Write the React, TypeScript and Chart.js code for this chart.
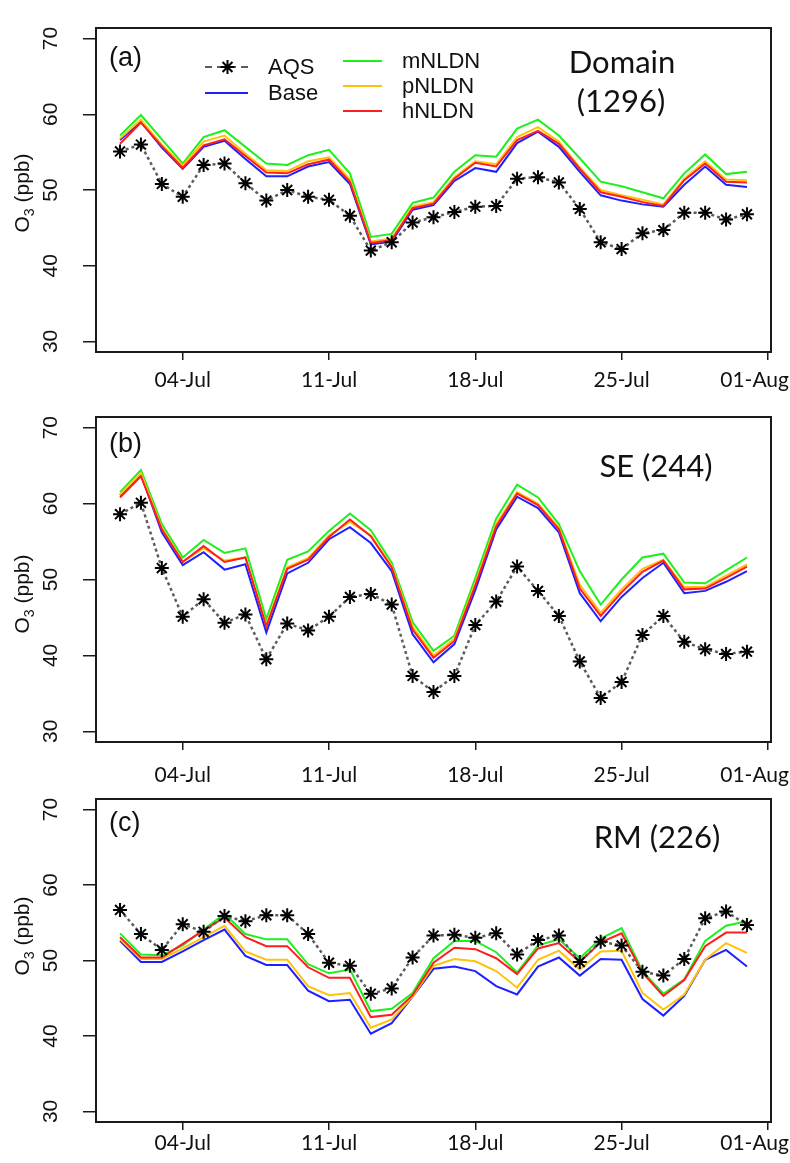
import React, { useEffect, useRef } from "react";
import { Chart, registerables } from "chart.js";

Chart.register(...registerables);

// ---------- data ----------
const days = [1, 2, 3, 4, 5, 6, 7, 8, 9, 10, 11, 12, 13, 14, 15, 16, 17, 18, 19, 20, 21, 22, 23, 24, 25, 26, 27, 28, 29, 30, 31];
const xTickValues = [4, 11, 18, 25, 32];
const xTickLabels = ["04-Jul", "11-Jul", "18-Jul", "25-Jul", "01-Aug"];
const yTickValues = [30, 40, 50, 60, 70];
const seriesNames = ["AQS", "Base", "mNLDN", "pNLDN", "hNLDN"];

// (a) Domain
const aqsA = [55.1, 56.0, 50.8, 49.1, 53.3, 53.5, 50.9, 48.6, 50.0, 49.1, 48.7, 46.6, 42.0, 43.1, 45.7, 46.4, 47.1, 47.8, 47.9, 51.5, 51.7, 51.0, 47.5, 43.1, 42.2, 44.3, 44.7, 47.0, 47.0, 46.1, 46.8];
const baseA = [56.6, 59.0, 55.6, 52.8, 55.7, 56.5, 54.1, 51.8, 51.8, 53.1, 53.7, 50.8, 42.8, 43.2, 47.4, 48.0, 51.2, 52.9, 52.4, 56.2, 57.7, 55.7, 52.4, 49.3, 48.6, 48.1, 47.8, 50.7, 53.1, 50.7, 50.4];
const mA = [57.2, 59.9, 56.7, 53.5, 57.0, 57.9, 55.7, 53.5, 53.3, 54.6, 55.3, 52.2, 43.8, 44.2, 48.3, 49.0, 52.4, 54.6, 54.4, 58.1, 59.3, 57.2, 54.2, 51.1, 50.5, 49.7, 48.9, 52.2, 54.7, 52.1, 52.4];
const pA = [56.8, 59.3, 56.0, 53.2, 56.4, 57.2, 54.8, 52.6, 52.5, 53.8, 54.3, 51.4, 43.2, 43.6, 47.8, 48.4, 51.7, 53.8, 53.4, 57.0, 58.3, 56.4, 53.0, 50.0, 49.3, 48.7, 48.1, 51.5, 53.8, 51.4, 51.3];
const hA = [56.1, 58.9, 55.8, 52.9, 55.9, 56.7, 54.5, 52.3, 52.2, 53.4, 54.0, 51.1, 43.0, 43.4, 47.6, 48.2, 51.5, 53.6, 53.1, 56.6, 57.8, 56.1, 52.8, 49.7, 49.1, 48.4, 47.9, 51.3, 53.5, 51.1, 51.0];

// (b) SE
const aqsB = [58.6, 60.1, 51.5, 45.1, 47.4, 44.3, 45.4, 39.5, 44.2, 43.3, 45.1, 47.7, 48.1, 46.7, 37.3, 35.2, 37.3, 44.0, 47.1, 51.7, 48.5, 45.2, 39.2, 34.4, 36.5, 42.7, 45.2, 41.8, 40.8, 40.2, 40.5];
const baseB = [61.1, 63.8, 56.2, 51.9, 53.6, 51.3, 52.0, 43.0, 50.8, 52.2, 55.3, 56.9, 54.8, 51.1, 42.8, 39.1, 41.5, 48.6, 56.6, 60.9, 59.4, 56.2, 48.2, 44.5, 47.7, 50.2, 52.2, 48.2, 48.5, 49.7, 51.1];
const mB = [61.5, 64.4, 57.3, 52.9, 55.2, 53.5, 54.1, 44.8, 52.6, 53.7, 56.4, 58.7, 56.5, 52.2, 44.4, 40.6, 42.6, 50.2, 58.0, 62.5, 60.8, 57.3, 51.1, 46.7, 50.0, 52.9, 53.4, 49.6, 49.5, 51.2, 52.9];
const pB = [61.2, 64.0, 56.8, 52.4, 54.1, 52.5, 52.9, 44.0, 51.6, 52.8, 55.8, 57.6, 55.8, 51.8, 43.8, 40.0, 42.2, 49.5, 57.3, 61.5, 60.0, 56.8, 49.3, 45.6, 48.7, 51.4, 52.6, 49.0, 49.0, 50.5, 52.0];
const hB = [60.8, 63.6, 56.6, 52.3, 54.4, 52.3, 52.9, 43.8, 51.4, 52.6, 55.6, 57.9, 55.7, 51.6, 43.4, 39.7, 41.9, 49.2, 57.0, 61.3, 59.8, 56.6, 48.8, 45.2, 48.3, 51.0, 52.5, 48.7, 48.8, 50.2, 51.7];

// (c) RM
const aqsC = [56.7, 53.5, 51.4, 54.8, 53.8, 55.9, 55.2, 56.0, 56.0, 53.5, 49.7, 49.3, 45.6, 46.3, 50.4, 53.3, 53.4, 53.0, 53.6, 50.8, 52.7, 53.3, 49.8, 52.5, 52.0, 48.5, 48.0, 50.2, 55.6, 56.5, 54.7];
const baseC = [52.6, 49.8, 49.8, 51.2, 52.7, 54.1, 50.6, 49.4, 49.4, 46.0, 44.6, 44.8, 40.3, 41.7, 45.2, 48.9, 49.2, 48.6, 46.6, 45.5, 49.2, 50.4, 48.0, 50.2, 50.1, 44.9, 42.7, 45.3, 50.1, 51.4, 49.2];
const mC = [53.6, 50.8, 50.7, 52.0, 54.1, 56.2, 53.5, 52.8, 52.8, 49.5, 48.3, 48.8, 43.3, 43.6, 45.7, 50.3, 52.6, 52.6, 51.1, 48.4, 52.0, 52.8, 50.3, 52.9, 54.3, 48.6, 45.6, 47.5, 52.6, 54.6, 55.2];
const pC = [52.8, 50.2, 50.2, 51.6, 53.1, 54.6, 51.2, 50.1, 50.1, 46.6, 45.4, 45.7, 41.1, 42.2, 45.2, 49.3, 50.2, 49.9, 48.6, 46.4, 50.1, 51.3, 48.8, 51.2, 51.3, 45.7, 43.5, 45.5, 50.1, 52.3, 51.0];
const hC = [53.1, 50.4, 50.4, 52.2, 54.0, 55.7, 53.1, 51.9, 51.9, 49.1, 47.7, 47.7, 42.5, 42.8, 45.4, 49.7, 51.7, 51.5, 50.3, 48.2, 51.6, 52.3, 49.8, 52.4, 53.6, 48.4, 45.3, 47.4, 51.9, 53.7, 53.7];

// ---------- styles / layout ----------
const Y_MIN = 28.6;
const Y_MAX = 71.4;
const X_MIN = -0.15;
const X_MAX = 32.15;
const AREA_LEFT = 96;
const AREA_RIGHT = 771;
const X_SCALE_H = 10;

const COLORS = {
  aqsLine: "#5c5c5c",
  aqsPoint: "#000000",
  base: "#1f1fff",
  m: "#1ef01e",
  p: "#ffc20a",
  h: "#ff1e1e",
};

const PANELS = [
  {
    key: "a", top: 0, height: 395, areaTop: 28, areaBottom: 352, labelY: 380, titleY: 193,
    tag: "(a)", tagBase: 66, region: [["Domain", 622, 73], ["(1296)", 621, 112]],
    aqs: aqsA, base: baseA, m: mA, p: pA, h: hA, legend: true,
  },
  {
    key: "b", top: 395, height: 395, areaTop: 417, areaBottom: 742, labelY: 775, titleY: 594,
    tag: "(b)", tagBase: 452, region: [["SE (244)", 656, 477]],
    aqs: aqsB, base: baseB, m: mB, p: pB, h: hB, legend: false,
  },
  {
    key: "c", top: 790, height: 373, areaTop: 797, areaBottom: 1122, labelY: 1143, titleY: 936,
    tag: "(c)", tagBase: 831, region: [["RM (226)", 657, 848]],
    aqs: aqsC, base: baseC, m: mC, p: pC, h: hC, legend: false,
  },
];

const ARIAL = '"Liberation Sans", Arial, sans-serif';
const CALIBRI = 'Lato, "Open Sans", sans-serif';

function toXY(vals: number[]) {
  return days.map((d, i) => ({ x: d, y: vals[i] }));
}

function drawStar(ctx: CanvasRenderingContext2D, x: number, y: number, r: number) {
  ctx.beginPath();
  for (let k = 0; k < 4; k++) {
    const a = (k * Math.PI) / 4;
    ctx.moveTo(x - r * Math.cos(a), y - r * Math.sin(a));
    ctx.lineTo(x + r * Math.cos(a), y + r * Math.sin(a));
  }
  ctx.stroke();
}

function decoPlugin(p: any) {
  return {
    id: "deco_" + p.key,
    beforeDatasetsDraw(chart: any) {
      const { ctx, chartArea: a } = chart;
      ctx.save();
      ctx.strokeStyle = "#1a1a1a";
      ctx.lineWidth = 2;
      ctx.strokeRect(a.left, a.top, a.right - a.left, a.bottom - a.top);
      ctx.restore();
    },
    afterDraw(chart: any) {
      const ctx: CanvasRenderingContext2D = chart.ctx;
      const off = p.top;
      const xs = chart.scales.x;
      const ys = chart.scales.y;
      ctx.save();
      ctx.fillStyle = "#111";

      // y tick labels (rotated)
      ctx.font = "21px " + ARIAL;
      ctx.textAlign = "center";
      ctx.textBaseline = "alphabetic";
      ys.ticks.forEach((t: any) => {
        const y = ys.getPixelForValue(t.value);
        ctx.save();
        ctx.translate(57, y);
        ctx.rotate(-Math.PI / 2);
        ctx.fillText(String(t.value), 0, 0);
        ctx.restore();
      });

      // x tick labels
      ctx.font = "21px " + CALIBRI;
      ctx.textAlign = "center";
      xs.ticks.forEach((t: any) => {
        const idx = xTickValues.indexOf(t.value);
        const label = xTickLabels[idx];
        const w = ctx.measureText(label).width;
        let x = xs.getPixelForValue(t.value);
        if (x + w / 2 > 789) x = 789 - w / 2;
        ctx.fillText(label, x, p.labelY - off + 7);
      });

      // y axis title: O3 (ppb)
      ctx.save();
      ctx.translate(29, p.titleY - off);
      ctx.rotate(-Math.PI / 2);
      ctx.textAlign = "left";
      const big = "21px " + ARIAL;
      const small = "14px " + ARIAL;
      ctx.font = big;
      const wO = ctx.measureText("O").width;
      const wRest = ctx.measureText(" (ppb)").width;
      ctx.font = small;
      const w3 = ctx.measureText("3").width;
      let cx = -(wO + w3 + wRest) / 2;
      ctx.font = big;
      ctx.fillText("O", cx, 0);
      cx += wO;
      ctx.font = small;
      ctx.fillText("3", cx, 5);
      cx += w3;
      ctx.font = big;
      ctx.fillText(" (ppb)", cx, 0);
      ctx.restore();

      // panel tag
      ctx.font = "27px " + ARIAL;
      ctx.textAlign = "left";
      ctx.fillText(p.tag, 109, p.tagBase - off);

      // region text
      ctx.font = "31px " + CALIBRI;
      ctx.textAlign = "center";
      p.region.forEach((r: any) => ctx.fillText(r[0], r[1], r[2] - off));

      // legend
      if (p.legend) {
        const dsByLabel: any = {};
        chart.data.datasets.forEach((d: any) => (dsByLabel[d.label] = d));
        const items = [
          { name: seriesNames[0], x1: 205, x2: 248, tx: 268, y: 67 },
          { name: seriesNames[1], x1: 205, x2: 248, tx: 268, y: 93 },
          { name: seriesNames[2], x1: 343, x2: 382, tx: 402, y: 61 },
          { name: seriesNames[3], x1: 343, x2: 382, tx: 402, y: 86 },
          { name: seriesNames[4], x1: 343, x2: 382, tx: 402, y: 111 },
        ];
        ctx.font = "22px " + ARIAL;
        ctx.textAlign = "left";
        ctx.textBaseline = "middle";
        items.forEach((it) => {
          const ds = dsByLabel[it.name];
          const y = it.y - off;
          ctx.save();
          ctx.strokeStyle = ds.borderColor;
          ctx.lineWidth = 2;
          if (ds.borderDash) ctx.setLineDash([7, 5]);
          ctx.beginPath();
          ctx.moveTo(it.x1, y);
          ctx.lineTo(it.x2, y);
          ctx.stroke();
          ctx.setLineDash([]);
          if (ds.pointStyle === "star") {
            ctx.strokeStyle = ds.pointBorderColor;
            ctx.lineWidth = 2;
            drawStar(ctx, (it.x1 + it.x2) / 2 + 1, y, 7);
          }
          ctx.restore();
          ctx.fillStyle = "#111";
          ctx.fillText(it.name, it.tx, y + 1);
        });
      }
      ctx.restore();
    },
  };
}

function buildChart(canvas: HTMLCanvasElement, p: any) {
  const localTop = p.areaTop - p.top;
  const localBottom = p.areaBottom - p.top;
  const line = (label: string, vals: number[], color: string, order: number) => ({
    label,
    data: toXY(vals),
    borderColor: color,
    backgroundColor: color,
    borderWidth: 2,
    pointRadius: 0,
    tension: 0,
    order,
  });
  return new Chart(canvas, {
    type: "line",
    data: {
      datasets: [
        {
          label: seriesNames[0],
          data: toXY(p.aqs),
          borderColor: COLORS.aqsLine,
          borderDash: [3, 3],
          borderWidth: 2.5,
          pointStyle: "star",
          pointRadius: 7,
          pointBorderColor: COLORS.aqsPoint,
          pointBackgroundColor: COLORS.aqsPoint,
          pointBorderWidth: 2,
          tension: 0,
          order: 0,
        },
        line(seriesNames[4], p.h, COLORS.h, 1),
        line(seriesNames[3], p.p, COLORS.p, 2),
        line(seriesNames[2], p.m, COLORS.m, 3),
        line(seriesNames[1], p.base, COLORS.base, 4),
      ],
    },
    options: {
      animation: false,
      responsive: false,
      maintainAspectRatio: false,
      events: [],
      layout: {
        padding: {
          left: 0,
          right: 790 - AREA_RIGHT,
          top: localTop,
          bottom: p.height - localBottom - X_SCALE_H,
        },
      },
      plugins: { legend: { display: false }, tooltip: { enabled: false }, title: { display: false } },
      scales: {
        x: {
          type: "linear",
          min: X_MIN,
          max: X_MAX,
          afterBuildTicks: (s: any) => {
            s.ticks = xTickValues.map((v) => ({ value: v }));
          },
          afterFit: (s: any) => {
            s.height = X_SCALE_H;
          },
          ticks: { display: false },
          grid: { drawOnChartArea: false, drawTicks: true, tickLength: 8, color: "#1a1a1a", lineWidth: 1.5 },
          border: { display: false },
        },
        y: {
          type: "linear",
          min: Y_MIN,
          max: Y_MAX,
          afterBuildTicks: (s: any) => {
            s.ticks = yTickValues.map((v) => ({ value: v }));
          },
          afterFit: (s: any) => {
            s.width = AREA_LEFT;
          },
          ticks: { display: false },
          grid: { drawOnChartArea: false, drawTicks: true, tickLength: 13, color: "#1a1a1a", lineWidth: 1.5 },
          border: { display: false },
        },
      },
    },
    plugins: [decoPlugin(p)],
  } as any);
}

export default function App() {
  const r0 = useRef<HTMLCanvasElement>(null);
  const r1 = useRef<HTMLCanvasElement>(null);
  const r2 = useRef<HTMLCanvasElement>(null);
  const refs = [r0, r1, r2];
  useEffect(() => {
    const charts = PANELS.map((p, i) => buildChart(refs[i].current as HTMLCanvasElement, p));
    return () => charts.forEach((c) => c.destroy());
  }, []);
  return (
    <div style={{ position: "absolute", left: 0, top: 0, width: 790, height: 1163, background: "#fff", overflow: "hidden" }}>
      {PANELS.map((p, i) => (
        <canvas
          key={p.key}
          ref={refs[i]}
          width={790}
          height={p.height}
          style={{ position: "absolute", left: 0, top: p.top, width: 790, height: p.height }}
        />
      ))}
    </div>
  );
}
